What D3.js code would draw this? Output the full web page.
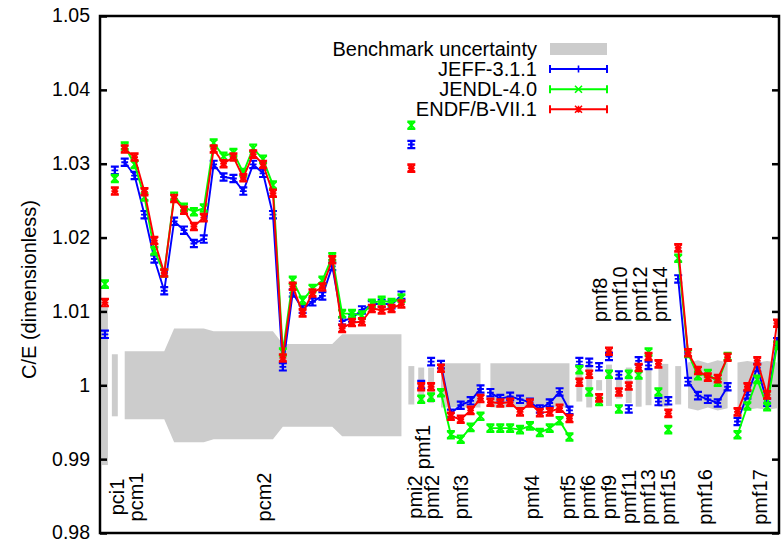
<!DOCTYPE html>
<html>
<head>
<meta charset="utf-8">
<script src="https://cdn.jsdelivr.net/npm/d3@7"></script>
<style>
  body { margin: 0; background: #fff; }
  svg { display: block; }
  text { font-family: "Liberation Sans", Arial, Helvetica, sans-serif; fill: #000; }
</style>
</head>
<body>
<svg id="chart" width="781" height="542"></svg>
<script>
// C/E values per benchmark case (case index 0..68)
const jeff = [
  1.0069, 1.0291, 1.0302, 1.0284, 1.0231, 1.0171, 1.0128, 1.0222, 1.0210, 1.0192,
  1.0198, 1.0299, 1.0282, 1.0280, 1.0263, 1.0299, 1.0287, 1.0231, 1.0025, 1.0125,
  1.0103, 1.0113, 1.0121, 1.0161, 1.0087, 1.0091, 1.0102, 1.0109, 1.0111, 1.0109,
  1.0122, 1.0326, 1.0001, 1.0032, 1.0028, 0.9962, 0.9973, 0.9979, 0.9995, 0.9990,
  0.9982, 0.9985, 0.9981, 0.9977, 0.9968, 0.9976, 0.9991, 0.9966, 1.0032, 1.0031,
  1.0025, 1.0039, 1.0014, 0.9968, 1.0033, 1.0027, 0.9978, 0.9979, 1.0144, 1.0005,
  0.9986, 0.9981, 0.9976, 0.9998, 0.9951, 0.9987, 1.0024, 0.9977, 1.0059
];
const jendl = [
  1.0137, 1.0280, 1.0324, 1.0299, 1.0255, 1.0182, 1.0152, 1.0256, 1.0241, 1.0235,
  1.0240, 1.0328, 1.0310, 1.0315, 1.0288, 1.0321, 1.0306, 1.0271, 1.0045, 1.0142,
  1.0115, 1.0131, 1.0142, 1.0174, 1.0097, 1.0097, 1.0095, 1.0111, 1.0115, 1.0112,
  1.0118, 1.0352, 0.9981, 0.9984, 0.9990, 0.9933, 0.9927, 0.9943, 0.9958, 0.9942,
  0.9942, 0.9942, 0.9940, 0.9945, 0.9936, 0.9942, 0.9952, 0.9930, 1.0021, 0.9991,
  0.9978, 1.0015, 0.9968, 1.0015, 1.0014, 1.0045, 0.9991, 0.9940, 1.0172, 1.0043,
  1.0013, 1.0016, 1.0004, 1.0039, 0.9933, 0.9972, 1.0008, 0.9971, 1.0054
];
const endf = [
  1.0112, 1.0263, 1.0320, 1.0309, 1.0262, 1.0196, 1.0152, 1.0253, 1.0237, 1.0215,
  1.0227, 1.0320, 1.0300, 1.0309, 1.0281, 1.0313, 1.0299, 1.0260, 1.0037, 1.0134,
  1.0098, 1.0125, 1.0133, 1.0170, 1.0077, 1.0085, 1.0086, 1.0104, 1.0102, 1.0104,
  1.0110, 1.0294, 0.9998, 0.9998, 1.0023, 0.9958, 0.9954, 0.9966, 0.9982, 0.9977,
  0.9976, 0.9977, 0.9964, 0.9976, 0.9963, 0.9964, 0.9969, 0.9955, 1.0004, 1.0015,
  0.9983, 1.0046, 0.9991, 0.9999, 1.0024, 1.0039, 1.0029, 0.9962, 1.0186, 1.0044,
  1.0020, 1.0011, 1.0009, 1.0038, 0.9964, 0.9998, 1.0033, 0.9987, 1.0084
];
// Benchmark (experimental) 1-sigma uncertainty per case
const benchSigma = [
  0.0108, 0.0042, 0.0046, 0.0046, 0.0046, 0.0046, 0.0046, 0.0077, 0.0077, 0.0077,
  0.0077, 0.0073, 0.0073, 0.0073, 0.0073, 0.0073, 0.0073, 0.0073, 0.0056, 0.0056,
  0.0056, 0.0056, 0.0056, 0.0056, 0.0069, 0.0069, 0.0069, 0.0069, 0.0069, 0.0069,
  0.0069, 0.0026, 0.0024, 0.0024, 0.0030, 0.0030, 0.0030, 0.0030, 0.0030, 0.0030,
  0.0030, 0.0030, 0.0030, 0.0030, 0.0030, 0.0030, 0.0030, 0.0030, 0.0022, 0.0030,
  0.0007, 0.0028, 0.0018, 0.0024, 0.0029, 0.0027, 0.0029, 0.0029, 0.0026, 0.0031,
  0.0034, 0.0030, 0.0034, 0.0031, 0.0031, 0.0033, 0.0031, 0.0033, 0.0031
];
// Calculation statistical uncertainty (1 sigma)
const statErr = 0.0005;

// Consecutive cases joined by lines, and cases sharing a filled uncertainty band
const lineGroups = [[2, 30], [34, 38], [39, 47], [58, 63], [64, 68]];
const bandGroups = [[2, 30], [34, 38], [39, 47], [56, 57], [59, 63], [64, 68]];

// Benchmark series names, their position on the case axis and label row
const seriesNames = ["pci1", "pcm1", "pcm2", "pmi2", "pmf1", "pmf2", "pmf3", "pmf4", "pmf5", "pmf6",
  "pmf8", "pmf9", "pmf10", "pmf11", "pmf12", "pmf13", "pmf14", "pmf15", "pmf16", "pmf17"];
const seriesAt = [1.22, 3.15, 16.1, 31.4, 32.2, 33.1, 36.0, 43.2, 46.9, 48.9,
  50.1, 51.0, 52.1, 53.0, 54.1, 54.9, 56.2, 57.0, 60.7, 66.3];
const seriesRow = ["low", "low", "low", "low", "mid", "low", "low", "low", "low", "low",
  "high", "low", "high", "low", "high", "low", "high", "low", "low", "low"];

const yTicks = [0.98, 0.99, 1.00, 1.01, 1.02, 1.03, 1.04, 1.05];
const libraries = [
  { name: "JEFF-3.1.1", values: jeff, color: "#0000ff", marker: "plus" },
  { name: "JENDL-4.0", values: jendl, color: "#00ff00", marker: "cross" },
  { name: "ENDF/B-VII.1", values: endf, color: "#ff0000", marker: "star" }
];

const svg = d3.select("#chart");
const plot = { left: 100, right: 779, top: 16, bottom: 533 };
const x = d3.scaleLinear().domain([-0.5, 68.2]).range([plot.left, plot.right]);
const y = d3.scaleLinear().domain([0.98, 1.05]).range([plot.bottom, plot.top]);
const bandColor = "#cccccc";

svg.append("clipPath").attr("id", "plotclip")
  .append("rect").attr("x", plot.left).attr("y", plot.top)
  .attr("width", plot.right - plot.left).attr("height", plot.bottom - plot.top);
const g = svg.append("g").attr("clip-path", "url(#plotclip)");

// Uncertainty bands: filled polygons for grouped cases, short bars for isolated ones
const inBand = new Set();
bandGroups.forEach(([a, b]) => d3.range(a, b + 1).forEach(i => inBand.add(i)));
const bandArea = d3.area()
  .x(i => x(i))
  .y0(i => y(1 - benchSigma[i]))
  .y1(i => y(1 + benchSigma[i]));
bandGroups.forEach(([a, b]) => {
  g.append("path").attr("d", bandArea(d3.range(a, b + 1))).attr("fill", bandColor);
});
const halfBar = 0.3;
d3.range(jeff.length).filter(i => !inBand.has(i)).forEach(i => {
  g.append("rect")
    .attr("x", x(i - halfBar)).attr("width", x(i + halfBar) - x(i - halfBar))
    .attr("y", y(1 + benchSigma[i])).attr("height", y(1 - benchSigma[i]) - y(1 + benchSigma[i]))
    .attr("fill", bandColor);
});

// Marker shapes
function markerPath(kind, r) {
  const plus = `M${-r},0H${r}M0,${-r}V${r}`;
  const cross = `M${-r},${-r}L${r},${r}M${-r},${r}L${r},${-r}`;
  if (kind === "plus") return plus;
  if (kind === "cross") return cross;
  return plus + cross;
}

libraries.forEach(lib => {
  const layer = g.append("g");
  const ln = d3.line().x(i => x(i)).y(i => y(lib.values[i]));
  lineGroups.forEach(([a, b]) => {
    layer.append("path").attr("d", ln(d3.range(a, b + 1)))
      .attr("fill", "none").attr("stroke", lib.color).attr("stroke-width", 1.9)
      .attr("stroke-linejoin", "round");
  });
  const cap = 4;
  lib.values.forEach((v, i) => {
    const cx = x(i), y0 = y(v - statErr), y1 = y(v + statErr);
    layer.append("path")
      .attr("d", `M${cx},${y0}V${y1}M${cx - cap},${y0}H${cx + cap}M${cx - cap},${y1}H${cx + cap}`)
      .attr("stroke", lib.color).attr("stroke-width", 2.2).attr("fill", "none");
    layer.append("path")
      .attr("transform", `translate(${cx},${y(v)})`)
      .attr("d", markerPath(lib.marker, 3.4))
      .attr("stroke", lib.color).attr("stroke-width", 1.8).attr("fill", "none");
  });
});

// Axes with inward ticks, mirrored on the right
const yAxis = d3.axisLeft(y).tickValues(yTicks).tickSizeInner(-7).tickSizeOuter(0).tickPadding(10)
  .tickFormat(d => Math.abs(d - 1) < 1e-9 ? "1" : d3.format(".2f")(d));
const ya = svg.append("g").attr("transform", `translate(${plot.left},0)`).call(yAxis);
ya.select(".domain").remove();
ya.selectAll(".tick line").attr("stroke", "#000").attr("stroke-width", 2.5);
ya.selectAll(".tick text").attr("font-size", 19.5).attr("dy", "0.3em")
  .attr("font-family", "Liberation Sans, Arial, sans-serif");

const yAxisR = d3.axisRight(y).tickValues(yTicks).tickSizeInner(-7).tickSizeOuter(0).tickFormat("");
const yr = svg.append("g").attr("transform", `translate(${plot.right},0)`).call(yAxisR);
yr.select(".domain").remove();
yr.selectAll(".tick line").attr("stroke", "#000").attr("stroke-width", 2.5);

svg.append("rect")
  .attr("x", plot.left).attr("y", plot.top)
  .attr("width", plot.right - plot.left).attr("height", plot.bottom - plot.top)
  .attr("fill", "none").attr("stroke", "#000").attr("stroke-width", 2.5);

// Axis title
svg.append("text")
  .attr("transform", `translate(36,${(plot.top + plot.bottom) / 2 + 15}) rotate(-90)`)
  .attr("text-anchor", "middle").attr("font-size", 20)
  .text("C/E (dimensionless)");

// Benchmark series labels, written upward; the top row starts from a common line
const rowY = { low: 497, mid: 447, high: 322 };
seriesNames.forEach((name, k) => {
  const row = seriesRow[k];
  svg.append("text")
    .attr("transform", `translate(${x(seriesAt[k])},${rowY[row]}) rotate(-90)`)
    .attr("text-anchor", row === "high" ? "start" : "middle")
    .attr("dominant-baseline", "central")
    .attr("font-size", 20)
    .text(name);
});

// Legend
const legend = svg.append("g");
const legX = 537, sampleX0 = 550, sampleX1 = 607;
const rows = [{ name: "Benchmark uncertainty" }].concat(libraries);
rows.forEach((r, k) => {
  const cy = 49 + k * 20.1;
  legend.append("text").attr("x", legX).attr("y", cy + 7)
    .attr("text-anchor", "end").attr("font-size", 20).text(r.name);
  if (!r.values) {
    legend.append("rect").attr("x", sampleX0).attr("y", cy - 6)
      .attr("width", sampleX1 - sampleX0).attr("height", 12).attr("fill", bandColor);
  } else {
    const mid = (sampleX0 + sampleX1) / 2;
    legend.append("path")
      .attr("d", `M${sampleX0},${cy}H${sampleX1}M${sampleX0},${cy - 4}V${cy + 4}M${sampleX1},${cy - 4}V${cy + 4}`)
      .attr("stroke", r.color).attr("stroke-width", 2).attr("fill", "none");
    legend.append("path").attr("transform", `translate(${mid},${cy})`)
      .attr("d", markerPath(r.marker, 3.5))
      .attr("stroke", r.color).attr("stroke-width", 1.6).attr("fill", "none");
  }
});
</script>
</body>
</html>
